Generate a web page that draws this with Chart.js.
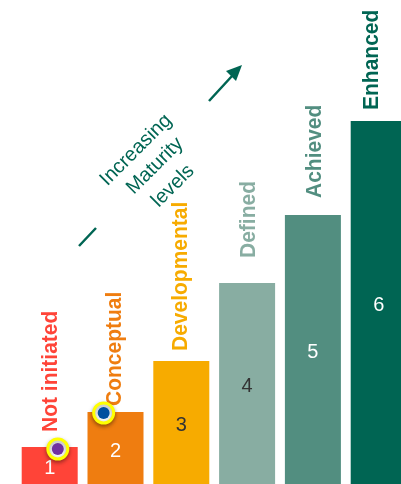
<!DOCTYPE html>
<html>
<head>
<meta charset="utf-8">
<style>
  html, body { margin: 0; padding: 0; background: #fff; overflow: hidden; width: 401px; height: 484px; }
  canvas { display: block; }
</style>
<script src="https://cdn.jsdelivr.net/npm/chart.js@4/dist/chart.umd.min.js"></script>
</head>
<body>
<canvas id="myChart" width="420" height="484"></canvas>
<script>
// maturity levels
const levels = ['Not initiated', 'Conceptual', 'Developmental', 'Defined', 'Achieved', 'Enhanced']
const levelValues = [37, 72, 123, 201, 269, 363]
const valueLabels = ['1', '2', '3', '4', '5', '6']
const barColors = ['#ff4438', '#ef7d10', '#f7ab00', '#88ada2', '#528e80', '#006553']
const valueColors = ['#fff', '#fff', '#333', '#333', '#fff', '#fff']

// the two markers, x in category units
const markerX = [0.123, 0.82]
const markerY = [35, 71]
const markerColors = ['#7030a0', '#004f9f']

const green = '#006553'

// gap between bar top and its rotated name, and sideways shift from bar centre
const nameGap = [15, 6, 10, 25, 17, 11]
const nameShift = [1.5, -0.5, -0.5, 1.5, 1.5, -6.5]

const barText = {
    id: 'barText',
    // runs right after the bars so the markers stay on top of the text
    afterDatasetDraw(chart, args) {
        if (args.index !== 0) return
        const ctx = chart.ctx
        const bars = chart.getDatasetMeta(0).data
        ctx.save()
        bars.forEach((bar, i) => {
            // value in the middle of the bar
            ctx.font = '20px "Liberation Sans"'
            ctx.fillStyle = valueColors[i]
            ctx.textAlign = 'center'
            ctx.textBaseline = 'middle'
            ctx.fillText(valueLabels[i], bar.x, (bar.y + bar.base) / 2 + 3)

            // level name going up above the bar
            ctx.save()
            ctx.translate(bar.x + nameShift[i], bar.y - nameGap[i])
            ctx.rotate(-Math.PI / 2)
            ctx.scale(1, 1.08)
            ctx.font = 'bold 21px "Liberation Sans"'
            ctx.fillStyle = barColors[i]
            ctx.textAlign = 'left'
            ctx.fillText(levels[i], 0, 0)
            ctx.restore()
        })
        ctx.restore()
    }
}

// diagonal caption with its broken arrow
const caption = {
    id: 'caption',
    afterDraw(chart) {
        const ctx = chart.ctx
        ctx.save()
        ctx.strokeStyle = green
        ctx.fillStyle = green
        ctx.lineWidth = 2.5
        ctx.beginPath()
        ctx.moveTo(79, 246)
        ctx.lineTo(96, 228)
        ctx.moveTo(209, 101)
        ctx.lineTo(232, 76)
        ctx.stroke()
        ctx.beginPath()
        ctx.moveTo(242, 65)
        ctx.lineTo(236, 81)
        ctx.lineTo(226, 71)
        ctx.closePath()
        ctx.fill()

        ctx.font = '20px "Liberation Sans"'
        ctx.textAlign = 'center'
        ctx.textBaseline = 'middle'
        const lines = [['Increasing', 136, 150], ['Maturity', 155, 166], ['levels', 173, 186]]
        lines.forEach(l => {
            ctx.save()
            ctx.translate(l[1], l[2])
            ctx.rotate(-Math.PI / 4)
            ctx.fillText(l[0], 0, 0)
            ctx.restore()
        })
        ctx.restore()
    }
}

// soft shadow under the marker rings only
const ringShadow = {
    id: 'ringShadow',
    beforeDatasetDraw(chart, args) {
        if (args.index !== 1) return
        chart.ctx.save()
        chart.ctx.shadowColor = 'rgba(0,0,0,0.35)'
        chart.ctx.shadowBlur = 4
        chart.ctx.shadowOffsetY = 2
    },
    afterDatasetDraw(chart, args) {
        if (args.index === 1) chart.ctx.restore()
    }
}

const markerPoints = markerX.map((x, i) => ({ x: x, y: markerY[i] }))

new Chart(document.getElementById('myChart').getContext('2d'), {
    type: 'bar',
    data: {
        labels: levels,
        datasets: [{
            data: levelValues,
            backgroundColor: barColors,
            barPercentage: 56 / 65.8,
            categoryPercentage: 1,
            grouped: false,
            order: 3
        }, {
            type: 'scatter',
            data: markerPoints,
            xAxisID: 'xMark',
            pointRadius: 10,
            pointBackgroundColor: '#f8f8f8',
            pointBorderColor: '#ffff00',
            pointBorderWidth: 3,
            order: 2
        }, {
            type: 'scatter',
            data: markerPoints,
            xAxisID: 'xMark',
            pointRadius: 6,
            pointBackgroundColor: markerColors,
            pointBorderWidth: 0,
            order: 1
        }]
    },
    options: {
        responsive: false,
        animation: false,
        layout: { autoPadding: false, padding: { left: 16.8, right: 8.4, top: 0, bottom: 0 } },
        plugins: { legend: { display: false }, tooltip: { enabled: false } },
        scales: {
            x: { display: false },
            xMark: { type: 'linear', display: false, offset: false, min: -0.5, max: 5.5 },
            y: { display: false, min: 0, max: 484 }
        }
    },
    plugins: [ringShadow, barText, caption]
})
</script>
</body>
</html>
